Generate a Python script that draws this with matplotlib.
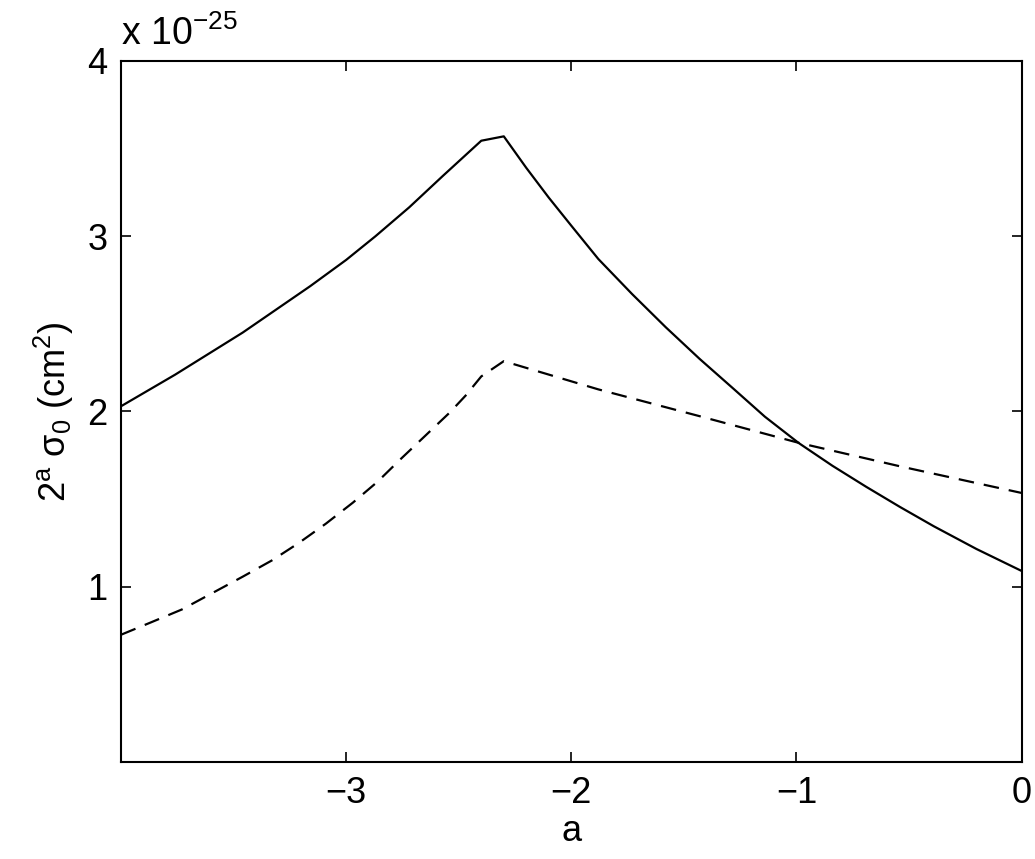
import matplotlib
matplotlib.use("Agg")
import matplotlib.pyplot as plt

matplotlib.rcParams['font.family'] = ['Liberation Sans', 'DejaVu Sans']
matplotlib.rcParams['mathtext.default'] = 'regular'
matplotlib.rcParams['mathtext.fontset'] = 'custom'
matplotlib.rcParams['mathtext.rm'] = 'Liberation Sans'

# values in units of 1e-25 cm^2
a_solid = [-4.0, -3.76, -3.46, -3.16, -3.0, -2.87, -2.72, -2.57, -2.40,
           -2.30, -2.20, -2.10, -2.0, -1.88, -1.73, -1.58, -1.43, -1.28,
           -1.14, -0.99, -0.84, -0.69, -0.54, -0.39, -0.20, 0.0]
sig_solid = [2.03, 2.21, 2.45, 2.715, 2.865, 3.0, 3.165, 3.345, 3.545,
             3.57, 3.39, 3.22, 3.06, 2.87, 2.67, 2.48, 2.30, 2.13,
             1.97, 1.82, 1.69, 1.57, 1.455, 1.345, 1.215, 1.09]

a_dash = [-4.0, -3.87, -3.73, -3.60, -3.46, -3.33, -3.21, -3.09, -2.97,
          -2.86, -2.76, -2.65, -2.54, -2.47, -2.40, -2.30, -1.88, -1.43,
          -0.99, -0.54, 0.0]
sig_dash = [0.726, 0.795, 0.87, 0.96, 1.057, 1.15, 1.25, 1.36, 1.48,
            1.60, 1.726, 1.86, 1.994, 2.09, 2.20, 2.287, 2.126, 1.973,
            1.821, 1.687, 1.535]

xticks = [-3, -2, -1, 0]
yticks = [1, 2, 3, 4]

fig = plt.figure(figsize=(10.35, 8.59), dpi=100)
ax = fig.add_axes([0.117, 0.113, 0.870, 0.816])

ax.plot(a_solid, sig_solid, color='black', lw=1.6)
ax.plot(a_dash, sig_dash, color='black', lw=1.6, dashes=(7, 4.5))

ax.set_xlim(-4, 0)
ax.set_ylim(0, 4)
ax.set_xticks(xticks)
ax.set_yticks(yticks)
ax.set_xticklabels([str(t).replace('-', '\u2212') for t in xticks])
ax.tick_params(direction='in', length=7, width=1.2, labelsize=26,
               top=True, right=True, pad=10)
for s in ax.spines.values():
    s.set_linewidth(1.5)

ax.set_xlabel('a', fontsize=26, labelpad=2)
ax.set_ylabel('2$^{a}$ σ$_{0}$ (cm$^{2}$)', fontsize=26, labelpad=8)

# scale factor like MATLAB
ax.text(0.0, 1.012, 'x 10$^{\u221225}$', transform=ax.transAxes,
        fontsize=27, ha='left', va='bottom')

plt.savefig('out.png', dpi=100)
